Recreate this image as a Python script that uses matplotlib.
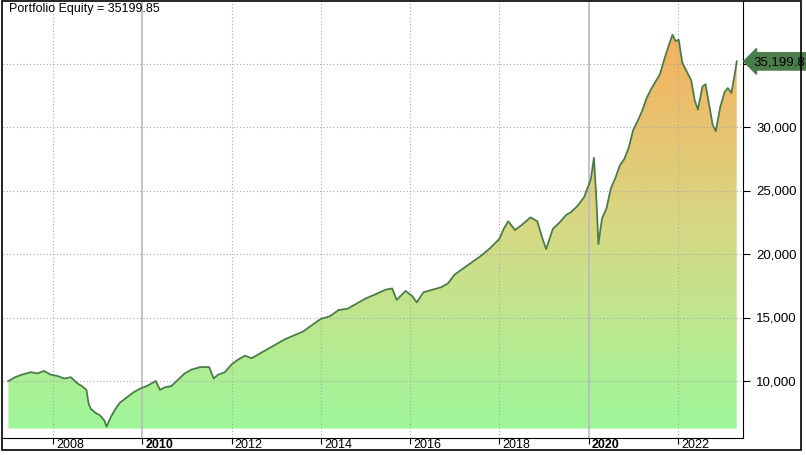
import matplotlib
matplotlib.use("Agg")
import matplotlib.pyplot as plt
import numpy as np
from matplotlib.patches import Rectangle, Polygon
from matplotlib.colors import LinearSegmentedColormap

# equity curve (decimal year, value)
years = [2007.0, 2007.15, 2007.3, 2007.5, 2007.65, 2007.8, 2007.95, 2008.1, 2008.25, 2008.4, 2008.55,
         2008.65, 2008.75, 2008.8, 2008.85, 2008.95, 2009.05, 2009.15, 2009.2, 2009.3, 2009.4, 2009.5,
         2009.65, 2009.8, 2009.95, 2010.1, 2010.3, 2010.4, 2010.5, 2010.65, 2010.8, 2010.95, 2011.1,
         2011.3, 2011.5, 2011.6, 2011.7, 2011.85, 2012.0, 2012.15, 2012.3, 2012.45, 2012.6, 2012.8,
         2013.0, 2013.2, 2013.4, 2013.6, 2013.8, 2014.0, 2014.2, 2014.4, 2014.6, 2014.8, 2015.0,
         2015.2, 2015.45, 2015.6, 2015.7, 2015.9, 2016.05, 2016.15, 2016.3, 2016.5, 2016.7, 2016.85,
         2017.0, 2017.2, 2017.4, 2017.6, 2017.8, 2018.0, 2018.1, 2018.2, 2018.35, 2018.5, 2018.7,
         2018.85, 2018.97, 2019.05, 2019.2, 2019.35, 2019.5, 2019.6, 2019.75, 2019.9, 2020.05, 2020.12,
         2020.18, 2020.22, 2020.3, 2020.4, 2020.5, 2020.6, 2020.7, 2020.8, 2020.9, 2021.0, 2021.1,
         2021.2, 2021.3, 2021.4, 2021.5, 2021.6, 2021.7, 2021.8, 2021.88, 2021.95, 2022.02, 2022.1,
         2022.2, 2022.3, 2022.38, 2022.45, 2022.55, 2022.62, 2022.7, 2022.78, 2022.85, 2022.95, 2023.05,
         2023.12, 2023.2, 2023.28, 2023.32]
equity = [10000, 10300, 10500, 10700, 10600, 10800, 10500, 10400, 10200, 10300, 9800,
          9600, 9300, 8200, 7800, 7500, 7300, 6900, 6400, 7200, 7800, 8300,
          8700, 9100, 9400, 9600, 10000, 9300, 9500, 9600, 10100, 10600, 10900,
          11100, 11100, 10200, 10500, 10700, 11300, 11700, 12000, 11800, 12100, 12500,
          12900, 13300, 13600, 13900, 14400, 14900, 15100, 15600, 15700, 16100, 16500,
          16800, 17200, 17300, 16400, 17100, 16700, 16200, 17000, 17200, 17400, 17700,
          18400, 18900, 19400, 19900, 20500, 21200, 22000, 22600, 21900, 22300, 22900,
          22600, 21200, 20400, 22000, 22500, 23100, 23300, 23800, 24500, 25900, 27600,
          24000, 20800, 22800, 23600, 25200, 26000, 27000, 27500, 28400, 29800, 30500,
          31300, 32300, 33000, 33600, 34200, 35400, 36500, 37300, 36800, 36900, 35100,
          34400, 33700, 32100, 31400, 33200, 33400, 31800, 30200, 29700, 31600, 32800,
          33100, 32700, 34300, 35199.85]
ytick_vals = [10000, 15000, 20000, 25000, 30000, 35000]
ytick_labels = ["10,000", "15,000", "20,000", "25,000", "30,000", ""]  # 35,000 sits under the tag
xtick_years = [2008, 2010, 2012, 2014, 2016, 2018, 2020, 2022]
last_label = "35,199.8"

W, H = 806, 456
fig = plt.figure(figsize=(W / 100, H / 100), dpi=100)
ax = fig.add_axes([3 / W, (H - 439) / H, 740 / W, 437 / H])
ax.set_xlim(2006.88, 2023.46)
ax.set_ylim(5510, 39960)

x = np.array(years)
y = np.array(equity)
base = y.min() - 150

# gradient fill, green at the bottom to orange at the peak
cmap = LinearSegmentedColormap.from_list("eq", ["#9ef79a", "#d6d985", "#f7b05e"])
grad = np.linspace(0, 1, 256).reshape(-1, 1)
img = ax.imshow(grad, cmap=cmap, aspect="auto", origin="lower",
                extent=[x[0], x[-1], base, y.max()], zorder=1)
verts = [(x[0], base)] + list(zip(x, y)) + [(x[-1], base)]
clip = Polygon(verts, closed=True, facecolor="none", edgecolor="none")
ax.add_patch(clip)
img.set_clip_path(clip)
ax.plot(x, y, color="#4b7d4b", lw=1.3, zorder=3)

# grid
for yv in ytick_vals:
    ax.axhline(yv, color="#aaaaaa", lw=0.8, ls=(0, (1, 2)), zorder=2)
for yr in xtick_years:
    if yr in (2010, 2020):
        ax.axvline(yr, color="#bbbbbb", lw=1.2, zorder=2)
    else:
        ax.axvline(yr, color="#aaaaaa", lw=0.8, ls=(0, (1, 2)), zorder=2)

ax.set_xticks(xtick_years)
ax.set_xticklabels([])
ax.tick_params(axis="x", direction="out", length=4, color="black")
for yr in xtick_years:
    ax.text(yr + 0.07, 5510, str(yr), ha="left", va="top",
            fontsize=9, fontweight="bold" if yr in (2010, 2020) else "normal",
            family="Liberation Sans", color="black")

ax.yaxis.tick_right()
ax.set_yticks(ytick_vals)
ax.set_yticklabels([])
ax.tick_params(axis="y", direction="out", length=5, color="black")
for yv, lab in zip(ytick_vals, ytick_labels):
    if lab:
        ax.annotate(lab, xy=(1, yv), xycoords=("axes fraction", "data"),
                    xytext=(54, 0), textcoords="offset pixels",
                    ha="right", va="center", fontsize=9.5, family="Liberation Sans")

for s in ["left", "top"]:
    ax.spines[s].set_visible(False)

# last value tag
ax.annotate(last_label, xy=(1, y[-1]), xycoords=("axes fraction", "data"),
            xytext=(10, 0), textcoords="offset pixels", ha="left", va="center",
            fontsize=9.5, family="Liberation Sans", color="black", annotation_clip=False,
            bbox=dict(boxstyle="larrow,pad=0.2", facecolor="#4b7d4b", edgecolor="#4b7d4b"))

ax.text(6 / 740, 1 - 1 / 437, "Portfolio Equity = 35199.85", transform=ax.transAxes,
        ha="left", va="top", fontsize=9, family="Liberation Sans")

# outer frame
fig.patches.append(Rectangle((2 / W, (H - 451) / H), 799 / W, 449 / H, transform=fig.transFigure,
                             fill=False, edgecolor="black", lw=1.2))

fig.savefig("out.png", dpi=100, facecolor="white")
